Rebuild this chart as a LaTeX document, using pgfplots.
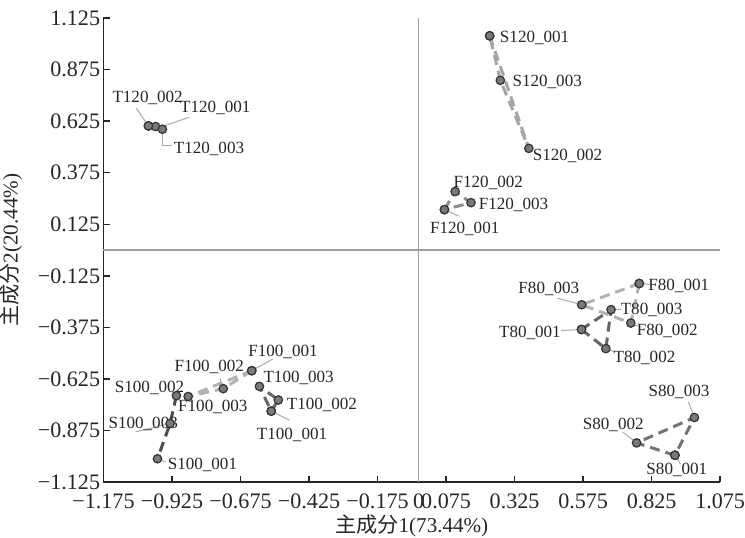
\documentclass[border=0pt]{standalone}
\usepackage{pgfplots}
\pgfplotsset{compat=1.18}
\usepackage{fontspec}
\setmainfont{Liberation Serif}
\newfontfamily\cjk{Noto Sans CJK SC}
\definecolor{mk}{HTML}{7A7A7A}
\definecolor{mkd}{HTML}{333333}
\definecolor{lead}{HTML}{AAAAAA}
\begin{document}
\begin{tikzpicture}
\begin{axis}[
  scale only axis, width=307pt, height=231pt,
  xmin=-1.175, xmax=1.075, ymin=-1.125, ymax=1.125,
  axis x line*=bottom, axis y line*=left,
  axis line style={-, line width=0.8pt, black!85},
  tick align=inside, major tick length=3pt,
  tick style={black!85, line width=0.7pt},
  xtick={-1.175,-0.925,-0.675,-0.425,-0.175,-0.025,0.075,0.325,0.575,0.825,1.075},
  xticklabels={−1.175,−0.925,−0.675,−0.425,−0.175,0,0.075,0.325,0.575,0.825,1.075},
  ytick={-1.125,-0.875,-0.625,-0.375,-0.125,0.125,0.375,0.625,0.875,1.125},
  yticklabels={−1.125,−0.875,−0.625,−0.375,−0.125,0.125,0.375,0.625,0.875,1.125},
  tick label style={font=\fontsize{11}{12}\selectfont, text=black!85},
  xticklabel style={yshift=-5.5pt},
  yticklabel style={xshift=-1.5pt},
  xlabel={{\cjk 主成分}1(73.44\%)},
  ylabel={{\cjk 主成分}2(20.44\%)},
  label style={font=\fontsize{10.5}{12}\selectfont, text=black!85},
  xlabel style={at={(axis description cs:0.5,0)}, anchor=center, yshift=-22pt},
  ylabel style={at={(axis description cs:0,0.5)}, anchor=center, rotate=0, yshift=46pt},
  clip=false,
  every axis plot/.append style={line width=1.5pt, dash pattern=on 5pt off 3pt,
     mark=*, mark size=2.1pt, mark options={solid, fill=mk, draw=mkd, line width=0.6pt}},
  nodes={font=\fontsize{8.5}{10}\selectfont, text=black!85, inner sep=0pt},
]
\path (rel axis cs:0,1) ++(0pt,9pt);
% zero lines
\draw[gray!75, line width=0.6pt] (axis cs:-0.025,-1.125) -- (axis cs:-0.025,1.125);
\draw[gray!75, line width=0.6pt] (axis cs:-1.175,0) -- (axis cs:1.075,0);
% leader lines
\begin{scope}[lead, line width=0.5pt]
\draw (axis cs:-1.055,0.688) -- (axis cs:-1.011,0.602);
\draw (axis cs:-0.863,0.644) -- (axis cs:-0.960,0.599);
\draw (axis cs:-0.960,0.579) -- (axis cs:-0.960,0.506) -- (axis cs:-0.926,0.506);
\draw (axis cs:0.069,0.196) -- (axis cs:0.121,0.165);
\draw (axis cs:-0.557,-0.528) -- (axis cs:-0.634,-0.585);
\draw (axis cs:-0.749,-0.622) -- (axis cs:-0.746,-0.653);
\draw (axis cs:-1.058,-0.882) -- (axis cs:-0.932,-0.841);
\draw (axis cs:-0.978,-1.012) -- (axis cs:-0.948,-1.028);
\draw (axis cs:-0.563,-0.781) -- (axis cs:-0.496,-0.825);
\draw (axis cs:0.481,-0.233) -- (axis cs:0.570,-0.265);
\draw (axis cs:0.780,-0.162) -- (axis cs:0.818,-0.166);
\draw (axis cs:0.677,-0.289) -- (axis cs:0.715,-0.287);
\draw (axis cs:0.749,-0.354) -- (axis cs:0.773,-0.370);
\draw (axis cs:0.495,-0.390) -- (axis cs:0.569,-0.385);
\draw (axis cs:0.658,-0.478) -- (axis cs:0.689,-0.492);
\draw (axis cs:0.959,-0.736) -- (axis cs:0.981,-0.812);
\draw (axis cs:0.719,-0.882) -- (axis cs:0.770,-0.935);
\draw (axis cs:0.910,-0.995) -- (axis cs:0.930,-1.038);
\end{scope}
% groups
\addplot[color=black!75] coordinates {(-1.011,0.602) (-0.985,0.599) (-0.960,0.586) (-1.011,0.602)}; % T120
\addplot[color=black!35] coordinates {(0.234,1.039) (0.377,0.493) (0.273,0.823) (0.234,1.039)}; % S120
\addplot[color=black!45] coordinates {(0.069,0.196) (0.108,0.284) (0.166,0.230) (0.069,0.196)}; % F120
\addplot[color=black!30] coordinates {(-0.634,-0.585) (-0.738,-0.672) (-0.866,-0.710) (-0.634,-0.585)}; % F100
\addplot[color=black!70] coordinates {(-0.909,-0.706) (-0.932,-0.841) (-0.978,-1.012)}; % S100
\addplot[color=black!60] coordinates {(-0.563,-0.781) (-0.537,-0.727) (-0.606,-0.661) (-0.563,-0.781)}; % T100
\addplot[color=black!30] coordinates {(0.780,-0.162) (0.749,-0.354) (0.570,-0.265) (0.780,-0.162)}; % F80
\addplot[color=black!60] coordinates {(0.569,-0.385) (0.658,-0.478) (0.677,-0.289) (0.569,-0.385)}; % T80
\addplot[color=black!55] coordinates {(0.910,-0.995) (0.770,-0.935) (0.981,-0.812) (0.910,-0.995)}; % S80
% labels
\node at (axis cs:-1.014,0.740) {T120\_002};
\node at (axis cs:-0.767,0.687) {T120\_001};
\node at (axis cs:-0.790,0.490) {T120\_003};
\node at (axis cs:0.398,1.029) {S120\_001};
\node at (axis cs:0.444,0.815) {S120\_003};
\node at (axis cs:0.518,0.458) {S120\_002};
\node at (axis cs:0.229,0.328) {F120\_002};
\node at (axis cs:0.321,0.219) {F120\_003};
\node at (axis cs:0.143,0.101) {F120\_001};
\node at (axis cs:-0.520,-0.492) {F100\_001};
\node at (axis cs:-0.789,-0.565) {F100\_002};
\node at (axis cs:-1.007,-0.667) {S100\_002};
\node at (axis cs:-0.776,-0.763) {F100\_003};
\node at (axis cs:-1.030,-0.841) {S100\_003};
\node at (axis cs:-0.814,-1.044) {S100\_001};
\node at (axis cs:-0.463,-0.619) {T100\_003};
\node at (axis cs:-0.378,-0.752) {T100\_002};
\node at (axis cs:-0.487,-0.895) {T100\_001};
\node at (axis cs:0.450,-0.187) {F80\_003};
\node at (axis cs:0.924,-0.172) {F80\_001};
\node at (axis cs:0.825,-0.289) {T80\_003};
\node at (axis cs:0.882,-0.391) {F80\_002};
\node at (axis cs:0.381,-0.403) {T80\_001};
\node at (axis cs:0.799,-0.521) {T80\_002};
\node at (axis cs:0.925,-0.687) {S80\_003};
\node at (axis cs:0.685,-0.846) {S80\_002};
\node at (axis cs:0.917,-1.068) {S80\_001};
\end{axis}
\end{tikzpicture}
\end{document}
